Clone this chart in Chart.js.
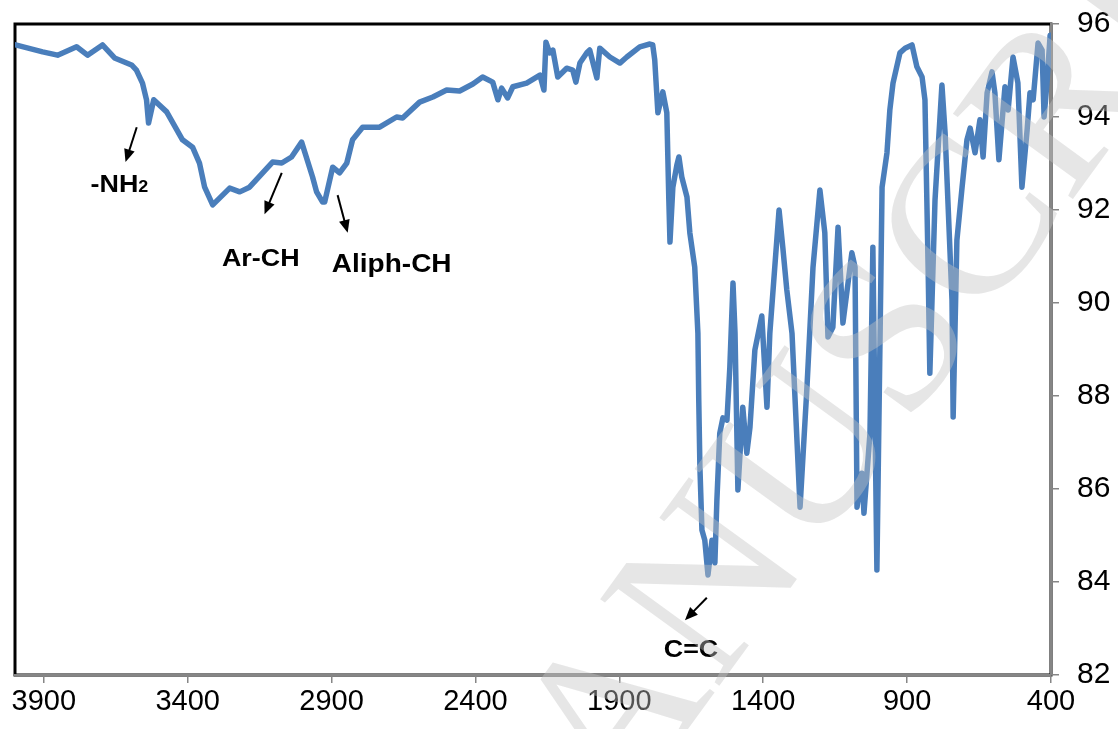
<!DOCTYPE html>
<html>
<head>
<meta charset="utf-8">
<script src="https://cdn.jsdelivr.net/npm/chart.js@4.4.1/dist/chart.umd.min.js"></script>
<style>
  html, body { margin: 0; padding: 0; background: #fff; }
</style>
</head>
<body>
<canvas id="ir" width="1118" height="729"></canvas>
<script>
// wavenumber (cm-1), high to low
const wavenumbers = [
  3998, 3904, 3852, 3786, 3748, 3696, 3654, 3595, 3578, 3557,
  3543, 3536, 3518, 3473, 3418, 3383, 3359, 3341, 3313, 3254,
  3219, 3185, 3105, 3073, 3039, 3004, 2966, 2952, 2931, 2924,
  2896, 2872, 2847, 2827, 2792, 2733, 2674, 2653, 2594, 2548,
  2500, 2455, 2409, 2375, 2340, 2322, 2309, 2288, 2270, 2222,
  2176, 2162, 2155, 2142, 2131, 2114, 2083, 2062, 2051, 2037,
  2013, 2003, 1978, 1968, 1933, 1898, 1874, 1829, 1794, 1784,
  1777, 1766, 1749, 1735, 1728, 1724, 1714, 1700, 1693, 1683,
  1665, 1655, 1638, 1627, 1624, 1620, 1613, 1603, 1592, 1578,
  1568, 1561, 1551, 1540, 1526, 1516, 1505, 1498, 1488, 1471,
  1457, 1446, 1429, 1405, 1387, 1377, 1345, 1332, 1318, 1300,
  1272, 1248, 1227, 1203, 1186, 1175, 1158, 1140, 1123, 1092,
  1081, 1074, 1057, 1050, 1029, 1019, 1005, 987, 970, 960,
  949, 925, 907, 883, 866, 848, 838, 827, 821, 803,
  779, 768, 744, 740, 727, 709, 692, 681, 664, 647,
  636, 622, 605, 595, 581, 560, 549, 532, 515, 501,
  483, 473, 462, 445, 431, 424, 414, 403
];

// transmittance (%) at each wavenumber
const transmittance = [
  95.55, 95.40, 95.33, 95.51, 95.33, 95.55, 95.27, 95.12, 95.01, 94.73,
  94.37, 93.87, 94.37, 94.11, 93.51, 93.35, 93.01, 92.49, 92.11, 92.47,
  92.39, 92.49, 93.03, 93.01, 93.14, 93.46, 92.71, 92.39, 92.17, 92.17,
  92.92, 92.80, 93.01, 93.51, 93.78, 93.78, 94.00, 93.98, 94.32, 94.43,
  94.58, 94.56, 94.71, 94.86, 94.75, 94.37, 94.62, 94.41, 94.65, 94.73,
  94.90, 94.58, 95.61, 95.38, 95.44, 94.86, 95.05, 95.01, 94.75, 95.16,
  95.38, 95.44, 94.84, 95.48, 95.29, 95.16, 95.29, 95.51, 95.57, 95.55,
  95.23, 94.09, 94.54, 94.09, 92.22, 91.31, 92.49, 92.97, 93.14, 92.71,
  92.28, 91.51, 90.77, 89.35, 87.91, 86.47, 85.12, 84.90, 84.15, 84.90,
  84.41, 85.76, 87.20, 87.53, 87.48, 88.62, 90.43, 89.35, 85.98, 87.76,
  86.77, 87.33, 88.99, 89.72, 87.76, 89.35, 92.00, 91.20, 90.28, 89.35,
  85.61, 88.19, 90.77, 92.43, 91.51, 89.27, 89.48, 91.63, 89.57, 91.08,
  90.77, 85.61, 86.34, 85.48, 87.20, 91.20, 84.26, 92.49, 93.23, 94.15,
  94.73, 95.38, 95.48, 95.55, 95.08, 94.86, 94.37, 90.77, 88.49, 92.22,
  94.69, 93.66, 90.06, 87.55, 91.35, 92.49, 93.51, 93.76, 93.23, 93.94,
  93.14, 94.52, 94.97, 94.52, 93.08, 94.65, 94.15, 95.29, 94.73, 92.49,
  93.72, 94.52, 94.37, 95.59, 95.44, 94.00, 94.73, 95.76
];

const xTicks = [3900, 3400, 2900, 2400, 1900, 1400, 900, 400];
const yTicks = [82, 84, 86, 88, 90, 92, 94, 96];

// band labels, placed in data units (wavenumber, %T)
const bandLabels = ["-NH", "Ar-CH", "Aliph-CH", "C=C"];
const bandSub = ["2", "", "", ""];
const labelWn = [3637, 3146, 2691, 1651];
const labelT = [92.58, 90.99, 90.86, 82.58];
const arrowFromWn = [3577, 3073, 2879, 1596];
const arrowFromT = [93.78, 92.80, 92.32, 83.66];
const arrowToWn = [3616, 3133, 2844, 1672];
const arrowToT = [93.03, 91.91, 91.51, 83.18];

const watermark = "ACCEPTED MANUSCRIPT";

const FONT = '"Liberation Sans", Arial, sans-serif';

// black plot frame, drawn first so the grey axes sit on top of it
const framePlugin = {
  id: 'frame',
  beforeDraw(chart) {
    const { ctx, chartArea: a } = chart;
    ctx.save();
    ctx.strokeStyle = '#000';
    ctx.lineWidth = 3;
    ctx.strokeRect(a.left, a.top, a.right - a.left, a.bottom - a.top);
    ctx.restore();
  }
};

// band names with arrows
const bandPlugin = {
  id: 'bands',
  afterDatasetsDraw(chart) {
    const { ctx, scales: { x, y } } = chart;
    const stretch = 1.12; // the labels in the picture are a bit wider than tall
    ctx.save();
    ctx.fillStyle = '#000';
    ctx.strokeStyle = '#000';
    ctx.textAlign = 'left';
    ctx.textBaseline = 'alphabetic';
    bandLabels.forEach(function (txt, i) {
      const size = i === 2 ? 25 : 24;
      ctx.font = 'bold ' + size + 'px ' + FONT;
      const w1 = ctx.measureText(txt).width * stretch;
      let w2 = 0;
      if (bandSub[i]) {
        ctx.font = 'bold 16px ' + FONT;
        w2 = ctx.measureText(bandSub[i]).width * stretch;
      }
      const cx = x.getPixelForValue(labelWn[i]);
      const base = y.getPixelForValue(labelT[i]) + size * 0.36;
      const left = cx - (w1 + w2) / 2;

      ctx.save();
      ctx.translate(left, base);
      ctx.scale(stretch, 1);
      ctx.font = 'bold ' + size + 'px ' + FONT;
      ctx.fillText(txt, 0, 0);
      ctx.restore();
      if (bandSub[i]) {
        ctx.save();
        ctx.translate(left + w1, base);
        ctx.scale(stretch, 1);
        ctx.font = 'bold 16px ' + FONT;
        ctx.fillText(bandSub[i], 0, 0);
        ctx.restore();
      }

      // arrow
      const fx = x.getPixelForValue(arrowFromWn[i]);
      const fy = y.getPixelForValue(arrowFromT[i]);
      const tx = x.getPixelForValue(arrowToWn[i]);
      const ty = y.getPixelForValue(arrowToT[i]);
      const ang = Math.atan2(ty - fy, tx - fx);
      const head = 14;
      ctx.lineWidth = 2;
      ctx.beginPath();
      ctx.moveTo(fx, fy);
      ctx.lineTo(tx - Math.cos(ang) * head * 0.8, ty - Math.sin(ang) * head * 0.8);
      ctx.stroke();
      ctx.beginPath();
      ctx.moveTo(tx, ty);
      ctx.lineTo(tx - Math.cos(ang - 0.4) * head, ty - Math.sin(ang - 0.4) * head);
      ctx.lineTo(tx - Math.cos(ang + 0.4) * head, ty - Math.sin(ang + 0.4) * head);
      ctx.closePath();
      ctx.fill();
    });
    ctx.restore();
  }
};

// faint diagonal stamp across the right half
const stampPlugin = {
  id: 'stamp',
  afterDraw(chart) {
    const ctx = chart.ctx;
    ctx.save();
    ctx.translate(chart.width * 0.64, chart.height * 0.81);
    ctx.rotate(-54 * Math.PI / 180);
    ctx.font = '225px "Liberation Serif", "Times New Roman", serif';
    ctx.fillStyle = 'rgba(195,195,195,0.42)';
    ctx.textBaseline = 'middle';
    ctx.textAlign = 'left';
    const lead = ctx.measureText('ACCEPTED MA').width + ctx.measureText('N').width / 2;
    ctx.fillText(watermark, -lead, 0);
    ctx.restore();
  }
};

const points = wavenumbers.map(function (wn, i) {
  return { x: wn, y: transmittance[i] };
});

new Chart(document.getElementById('ir'), {
  type: 'line',
  data: {
    datasets: [{
      data: points,
      borderColor: '#4a7ebb',
      borderWidth: 5.5,
      pointRadius: 0,
      tension: 0,
      borderJoinStyle: 'round',
      borderCapStyle: 'round',
      fill: false
    }]
  },
  options: {
    responsive: false,
    animation: false,
    devicePixelRatio: 1,
    layout: { padding: { left: 15, top: 24, right: 0, bottom: 0 } },
    plugins: { legend: { display: false }, tooltip: { enabled: false } },
    scales: {
      x: {
        type: 'linear',
        reverse: true,
        min: 400,
        max: 4000,
        afterBuildTicks: function (s) { s.ticks = xTicks.map(v => ({ value: v })); },
        afterFit: function (s) { s.height = 54; },
        grid: { drawOnChartArea: false, tickLength: 8, color: '#868686', lineWidth: 1.5 },
        border: { color: '#868686', width: 2 },
        ticks: {
          autoSkip: false, maxRotation: 0, padding: 2, color: '#000',
          font: { family: FONT, size: 29 },
          callback: function (v) { return String(v); }
        }
      },
      y: {
        position: 'right',
        min: 82,
        max: 96,
        afterBuildTicks: function (s) { s.ticks = yTicks.map(v => ({ value: v })); },
        afterFit: function (s) {
          s.width = 67;
          s.paddingTop = 0;
          s.paddingBottom = 0;
        },
        grid: { drawOnChartArea: false, tickLength: 8, color: '#868686', lineWidth: 1.5 },
        border: { color: '#868686', width: 2 },
        ticks: {
          padding: 18, color: '#000',
          font: { family: FONT, size: 30, lineHeight: 1 },
          callback: function (v) { return String(v); }
        }
      }
    }
  },
  plugins: [framePlugin, bandPlugin, stampPlugin]
});
</script>
</body>
</html>
